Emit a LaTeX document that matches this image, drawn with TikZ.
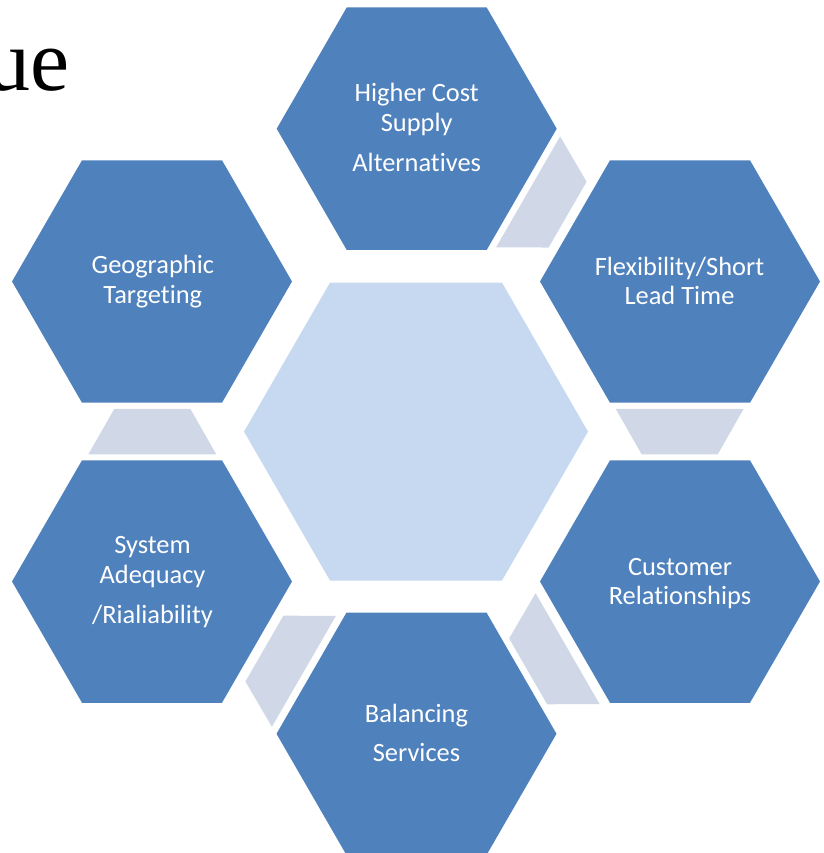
\documentclass[tikz,border=0pt]{standalone}
\usepackage{fontspec}
\setmainfont{Carlito}[Ligatures=NoCommon]
\newfontfamily\uefont{Liberation Serif}
\usetikzlibrary{shapes.geometric}
\definecolor{hexblue}{HTML}{4F81BD}
\definecolor{hexcenter}{HTML}{C6D9F1}
\definecolor{linkgray}{HTML}{D0D8E8}
\begin{document}
\begin{tikzpicture}[x=1pt,y=1pt,
  outerhex/.style={regular polygon, regular polygon sides=6, minimum size=280pt,
    inner sep=0pt, outer sep=0pt, fill=hexblue, draw=none},
  centerhex/.style={regular polygon, regular polygon sides=6, minimum size=344pt,
    inner sep=0pt, outer sep=0pt, fill=hexcenter, draw=none},
  lbl/.style={text=white, font=\fontsize{26.4}{30}\selectfont, anchor=base, inner sep=0pt},
  linkshape/.style={fill=linkgray, draw=none}]
\useasboundingbox (0,0) rectangle (823,-853);

\coordinate (C) at (416,-431.6);

% hexagons
\node[centerhex] (hc) at (C) {};
\node[outerhex] (htop) at (416.7,-128.7) {};
\node[outerhex] (hur) at (680,-281.5) {};
\node[outerhex] (hlr) at (680,-581.5) {};
\node[outerhex] (hbot) at (416.5,-733.8) {};
\node[outerhex] (hll) at (152,-581.5) {};
\node[outerhex] (hul) at (152,-281.5) {};

% connectors
\foreach \a in {60,0,-60,-120,180}{
  \begin{scope}[shift={(C)}, rotate=\a]
    \fill[linkshape] (199.7,22.8) -- (327.7,22.8) -- (301.7,-22.8) -- (225.7,-22.8) -- cycle;
  \end{scope}
}

% texts
\node[lbl] (t1a) at (416.7,-101.7) {Higher Cost};
\node[lbl] (t1b) at (416.7,-131.7) {Supply};
\node[lbl] (t1c) at (416.7,-171.7) {Alternatives};

\node[lbl] (t2a) at (679.5,-275) {Flexibility/Short};
\node[lbl] (t2b) at (679.5,-304) {Lead Time};

\node[lbl] (t3a) at (680,-575) {Customer};
\node[lbl] (t3b) at (680,-604) {Relationships};

\node[lbl] (t4a) at (416.5,-722) {Balancing};
\node[lbl] (t4b) at (416.5,-761) {Services};

\node[lbl] (t5a) at (152.5,-553.3) {System};
\node[lbl] (t5b) at (152.5,-583.3) {Adequacy};
\node[lbl] (t5c) at (152.5,-623.3) {/Rialiability};

\node[lbl] (t6a) at (152.8,-273.5) {Geographic};
\node[lbl] (t6b) at (152.8,-303.3) {Targeting};

\node[anchor=base east, inner sep=0pt, font=\uefont\fontsize{88}{88}\selectfont] (ue) at (70,-91) {ue};
\end{tikzpicture}
\end{document}
